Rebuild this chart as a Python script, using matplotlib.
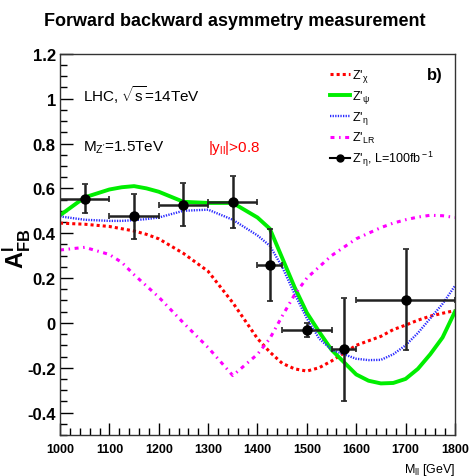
import matplotlib
matplotlib.use("Agg")
import matplotlib.pyplot as plt
import matplotlib.ticker as mtick
from matplotlib.lines import Line2D

plt.rcParams['font.family'] = ['Liberation Sans', 'DejaVu Sans']
plt.rcParams['mathtext.fontset'] = 'custom'
plt.rcParams['mathtext.rm'] = 'Liberation Sans'
plt.rcParams['mathtext.it'] = 'Liberation Sans'
plt.rcParams['mathtext.bf'] = 'Liberation Sans:bold'

# invariant mass grid for theory curves (GeV)
mass = [1000, 1050, 1100, 1125, 1150, 1175, 1200, 1250, 1300, 1350, 1400, 1425,
        1450, 1475, 1500, 1525, 1550, 1600, 1625, 1650, 1675, 1700, 1725, 1750,
        1775, 1800]

afb_chi = [0.445, 0.44, 0.43, 0.42, 0.41, 0.395, 0.375, 0.31, 0.23, 0.09, -0.07, -0.13,
           -0.18, -0.205, -0.215, -0.20, -0.17, -0.10, -0.08, -0.06, -0.03, -0.01, 0.012,
           0.03, 0.043, 0.055]
afb_psi = [0.48, 0.56, 0.595, 0.605, 0.61, 0.60, 0.585, 0.54, 0.535, 0.535, 0.47, 0.42,
           0.29, 0.16, 0.045, -0.04, -0.12, -0.23, -0.258, -0.27, -0.268, -0.25, -0.205,
           -0.14, -0.065, 0.05]
afb_eta = [0.475, 0.46, 0.455, 0.455, 0.458, 0.463, 0.47, 0.50, 0.505, 0.46, 0.39, 0.344,
           0.25, 0.13, 0.02, -0.07, -0.12, -0.16, -0.166, -0.165, -0.14, -0.10, -0.045,
           0.02, 0.085, 0.165]
afb_lr = [0.325, 0.337, 0.305, 0.27, 0.215, 0.165, 0.115, 0.0, -0.11, -0.235, -0.14, -0.07,
          0.03, 0.125, 0.20, 0.25, 0.30, 0.375, 0.40, 0.425, 0.445, 0.46, 0.472, 0.48,
          0.478, 0.47]

# pseudo-data, Z'_eta with L = 100 fb^-1
bin_center = [1050, 1150, 1250, 1350, 1425, 1500, 1575, 1700]
bin_halfwidth = [50, 50, 50, 50, 25, 50, 25, 100]
data_afb = [0.553, 0.475, 0.527, 0.538, 0.258, -0.031, -0.117, 0.103]
data_err = [0.065, 0.10, 0.095, 0.115, 0.16, 0.03, 0.23, 0.225]

style_chi = dict(color='#ff0000', lw=2.2, ls=(0, (1.0, 1.0)))
style_psi = dict(color='#00ee00', lw=2.8, ls='-')
style_eta = dict(color='#2a2aff', lw=1.7, ls=(0, (0.55, 0.55)))
style_lr = dict(color='#ff00ff', lw=2.2, ls=(0, (1.3, 1.5, 0.5, 1.5)))

fig = plt.figure(figsize=(4.69, 4.77), dpi=100)
ax = fig.add_axes([0.128, 0.086, 0.842, 0.799])

ax.plot(mass, afb_chi, **style_chi)
ax.plot(mass, afb_psi, **style_psi)
ax.plot(mass, afb_eta, **style_eta)
ax.plot(mass, afb_lr, **style_lr)
ax.errorbar(bin_center, data_afb, xerr=bin_halfwidth, yerr=data_err, fmt='o',
            color='black', ecolor='#222222', ms=6.5, elinewidth=1.8, capsize=2.5,
            capthick=1.2)

ax.set_xlim(1000, 1800)
ax.set_ylim(-0.5, 1.2)
ax.xaxis.set_major_locator(mtick.MultipleLocator(100))
ax.xaxis.set_minor_locator(mtick.MultipleLocator(20))
ax.yaxis.set_major_locator(mtick.MultipleLocator(0.2))
ax.yaxis.set_minor_locator(mtick.MultipleLocator(0.05))
ax.yaxis.set_major_formatter(mtick.FuncFormatter(lambda v, p: '%g' % round(v, 2)))
ax.tick_params(which='both', direction='in', top=False, right=False)
ax.tick_params(which='major', length=9, width=1.0)
ax.tick_params(which='minor', length=5, width=1.0)
ax.tick_params(axis='x', labelsize=9, pad=6)
ax.tick_params(axis='y', labelsize=12, pad=3)
for lab in ax.get_xticklabels() + ax.get_yticklabels():
    lab.set_fontweight('bold')
for s in ax.spines.values():
    s.set_linewidth(1.0)
    s.set_color('#333333')

fig.text(0.5, 0.955, 'Forward backward asymmetry measurement', ha='center', va='center',
         fontsize=13, fontweight='bold')
ax.set_ylabel(r'$\mathbf{A^{l}_{FB}}$', fontsize=17, labelpad=2)
ax.yaxis.set_label_coords(-0.068, 0.49)
ax.text(1.0, -0.068, r'M$_{\rm ll}$ [GeV]', transform=ax.transAxes, ha='right', va='top',
        fontsize=9)

ax.text(0.058, 0.875, r'LHC, $\sqrt{\rm s}$=14TeV', transform=ax.transAxes, fontsize=11)
ax.text(0.058, 0.745, r"M$_{\rm Z'}$=1.5TeV", transform=ax.transAxes, fontsize=11)
ax.text(0.375, 0.745, r'|y$_{\rm ll}$|>0.8', transform=ax.transAxes, fontsize=11,
        color='#ff0000')
ax.text(0.93, 0.935, 'b)', transform=ax.transAxes, fontsize=12, fontweight='bold')

handles = [
    Line2D([], [], **style_chi),
    Line2D([], [], **style_psi),
    Line2D([], [], **style_eta),
    Line2D([], [], **style_lr),
    Line2D([], [], color='black', lw=1.5, marker='o', ms=5),
]
labels = [r"Z'$_{\chi}$", r"Z'$_{\psi}$", r"Z'$_{\eta}$", r"Z'$_{\rm LR}$",
          r"Z'$_{\eta}$, L=100fb$^{\rm -1}$"]
ax.legend(handles, labels, loc='upper left', bbox_to_anchor=(0.655, 0.995), frameon=False,
          fontsize=9, handlelength=1.6, handletextpad=0.15, labelspacing=0.32)

fig.savefig('out.png', dpi=100)
